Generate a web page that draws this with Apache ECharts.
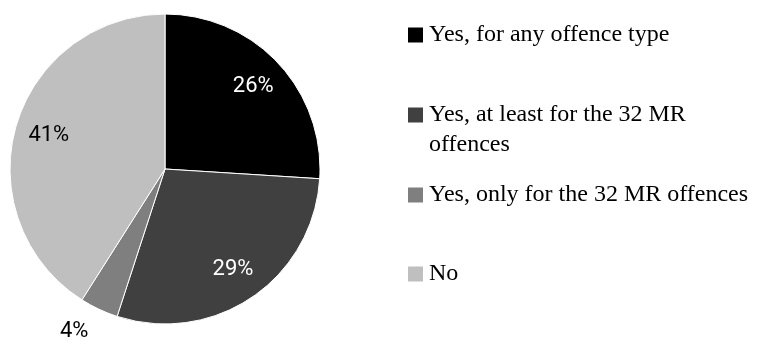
<!DOCTYPE html>
<html>
<head>
<meta charset="utf-8">
<script src="https://cdn.jsdelivr.net/npm/echarts@6/dist/echarts.min.js"></script>
<style>
html,body{margin:0;padding:0;background:#fff;}
#chart{width:765px;height:340px;}
</style>
</head>
<body>
<div id="chart"></div>
<script>
var categories = ['Yes, for any offence type', 'Yes, at least for the 32 MR offences', 'Yes, only for the 32 MR offences', 'No'];
var values = [26, 29, 4, 41];
var colors = ['#000000', '#404040', '#7f7f7f', '#bfbfbf'];
var labelColors = ['#ffffff', '#ffffff', '#000000', '#000000'];
var legendTops = [20, 70, 180, 259];

var chart = echarts.init(document.getElementById('chart'), null, {renderer: 'canvas'});

var mainData = categories.map(function (c, i) {
  return { name: c, value: values[i], itemStyle: { color: colors[i] } };
});
var labelData = categories.map(function (c, i) {
  var d = { name: c, value: values[i], label: { color: labelColors[i], fontSize: 22, fontFamily: 'Roboto' } };
  if (values[i] < 10) {
    d.label.position = 'outside';
    d.labelLine = { show: false, length: 25, length2: 0 };
  }
  return d;
});

var legends = categories.map(function (c, i) {
  return {
    data: [c],
    orient: 'vertical',
    left: 406,
    top: legendTops[i],
    padding: 0,
    icon: 'rect',
    itemWidth: 17,
    itemHeight: 17,
    selectedMode: false,
    formatter: function (name) {
      if (name === 'Yes, at least for the 32 MR offences') {
        return '\nYes, at least for the 32 MR\noffences';
      }
      return name;
    },
    textStyle: {
      fontFamily: 'Liberation Serif',
      fontSize: 24,
      lineHeight: 30,
      color: '#000'
    }
  };
});

chart.setOption({
  animation: false,
  backgroundColor: '#ffffff',
  legend: legends,
  series: [
    {
      type: 'pie',
      center: [165, 169],
      radius: [0, 155],
      startAngle: 90,
      clockwise: true,
      avoidLabelOverlap: false,
      silent: true,
      itemStyle: { borderColor: '#ffffff', borderWidth: 1 },
      label: { show: false },
      labelLine: { show: false },
      data: mainData
    },
    {
      type: 'pie',
      center: [165, 169],
      radius: [81, 155],
      startAngle: 90,
      clockwise: true,
      avoidLabelOverlap: false,
      silent: true,
      itemStyle: { color: 'rgba(0,0,0,0)', borderWidth: 0 },
      label: {
        show: true,
        position: 'inside',
        formatter: '{d}%',
        fontFamily: 'Roboto',
        fontSize: 22,
        distanceToLabelLine: 0
      },
      labelLine: { show: false },
      data: labelData
    }
  ]
});
</script>
</body>
</html>
